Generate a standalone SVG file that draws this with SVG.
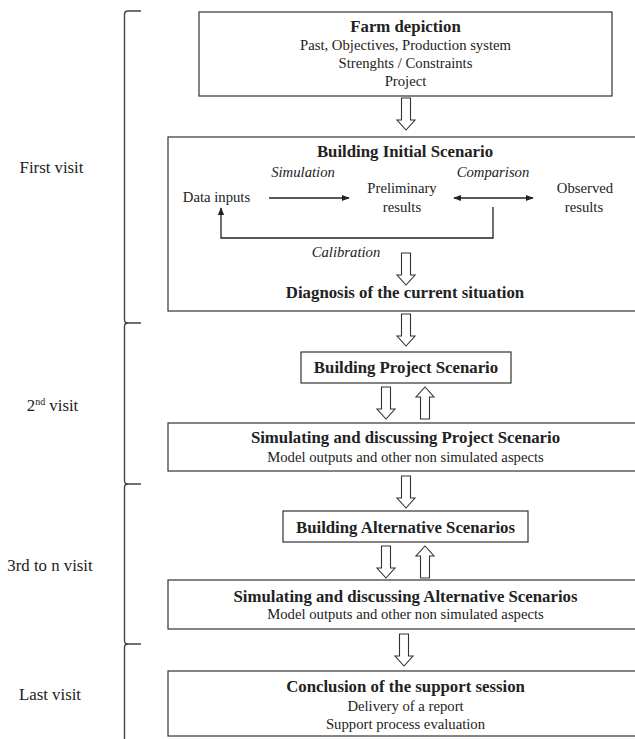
<svg xmlns="http://www.w3.org/2000/svg" width="635" height="739" viewBox="0 0 635 739">
<style>
.box{fill:#fff;stroke:#333;stroke-width:1.2}
.t{font-family:"Liberation Serif","Times New Roman",serif;fill:#222;text-anchor:middle}
.b{font-weight:bold;font-size:16.8px}
.r{font-size:14.7px}
.i{font-style:italic;font-size:14.7px}
.lab{font-size:16.8px}
.ha{fill:#fff;stroke:#333;stroke-width:1.1}
.ln{fill:none;stroke:#222;stroke-width:1.3}
.br{fill:none;stroke:#444;stroke-width:1.4}
</style>
<defs>
<marker id="ah" viewBox="0 0 10 10" refX="9" refY="5" markerWidth="8" markerHeight="8" markerUnits="userSpaceOnUse" orient="auto-start-reverse">
<path d="M0,1 L10,5 L0,9 z" fill="#222"/>
</marker>
<path id="dn" d="M-4.5,0 H4.5 V22 H9 L0,32 L-9,22 H-4.5 Z"/>
<path id="up" d="M-4.5,32 H4.5 V10 H9 L0,0 L-9,10 H-4.5 Z"/>
</defs>

<g id="brackets">
<path class="br" d="M141,11 H128 Q124.5,11 124.5,14.5 V320 Q124.5,323 128,323 H141"/>
<path class="br" d="M128,323 Q124.5,323 124.5,326.5 V481 Q124.5,484 128,484 H141"/>
<path class="br" d="M128,484 Q124.5,484 124.5,487.5 V641 Q124.5,644 128,644 H141"/>
<path class="br" d="M128,644 Q124.5,644 124.5,647.5 V739"/>
</g>

<g id="labels">
<text class="t lab" x="51.5" y="173">First visit</text>
<text class="t lab" x="52.5" y="411">2<tspan font-size="10" dy="-6">nd</tspan><tspan dy="6"> visit</tspan></text>
<text class="t lab" x="50" y="571">3rd to n visit</text>
<text class="t lab" x="50" y="700">Last visit</text>
</g>

<g id="farm">
<rect class="box" x="199" y="12" width="413" height="84"/>
<text class="t b" x="405.5" y="32">Farm depiction</text>
<text class="t r" x="405.5" y="50">Past, Objectives, Production system</text>
<text class="t r" x="405.5" y="68">Strenghts / Constraints</text>
<text class="t r" x="405.5" y="86">Project</text>
</g>

<g id="initial">
<rect class="box" x="168" y="137" width="475" height="174"/>
<text class="t b" x="405" y="157">Building Initial Scenario</text>
<text class="t i" x="303" y="177">Simulation</text>
<text class="t i" x="493" y="177">Comparison</text>
<text class="t r" x="216.5" y="202">Data inputs</text>
<text class="t r" x="402" y="193">Preliminary</text>
<text class="t r" x="402" y="212">results</text>
<text class="t r" x="585" y="193">Observed</text>
<text class="t r" x="584" y="212">results</text>
<text class="t i" x="346" y="257">Calibration</text>
<text class="t b" x="405" y="298">Diagnosis of the current situation</text>
</g>

<g id="project">
<rect class="box" x="301" y="352" width="210" height="31"/>
<text class="t b" x="406" y="373">Building Project Scenario</text>
</g>

<g id="simproject">
<rect class="box" x="168" y="423" width="475" height="48"/>
<text class="t b" x="405.5" y="443">Simulating and discussing Project Scenario</text>
<text class="t r" x="405.5" y="462">Model outputs and other non simulated aspects</text>
</g>

<g id="alternative">
<rect class="box" x="283" y="511" width="245" height="31"/>
<text class="t b" x="405.5" y="533">Building Alternative Scenarios</text>
</g>

<g id="simalternative">
<rect class="box" x="168" y="580" width="475" height="49"/>
<text class="t b" x="405.5" y="602">Simulating and discussing Alternative Scenarios</text>
<text class="t r" x="405.5" y="619">Model outputs and other non simulated aspects</text>
</g>

<g id="conclusion">
<rect class="box" x="168" y="671" width="475" height="65"/>
<text class="t b" x="405.5" y="692">Conclusion of the support session</text>
<text class="t r" x="405.5" y="711">Delivery of a report</text>
<text class="t r" x="405.5" y="729">Support process evaluation</text>
</g>

<g id="connectors">
<use href="#dn" class="ha" x="406" y="98"/>
<line class="ln" x1="269" y1="198" x2="349" y2="198" marker-end="url(#ah)"/>
<line class="ln" x1="454" y1="198" x2="533" y2="198" marker-start="url(#ah)" marker-end="url(#ah)"/>
<polyline class="ln" points="493,207 493,238 221,238 221,208" marker-end="url(#ah)"/>
<use href="#dn" class="ha" x="406" y="253"/>
<use href="#dn" class="ha" x="406" y="314"/>
<use href="#dn" class="ha" x="386" y="387"/>
<use href="#up" class="ha" x="425" y="387"/>
<use href="#dn" class="ha" x="406" y="476"/>
<use href="#dn" class="ha" x="386" y="546"/>
<use href="#up" class="ha" x="425" y="546"/>
<use href="#dn" class="ha" x="404" y="634"/>
</g>
</svg>
